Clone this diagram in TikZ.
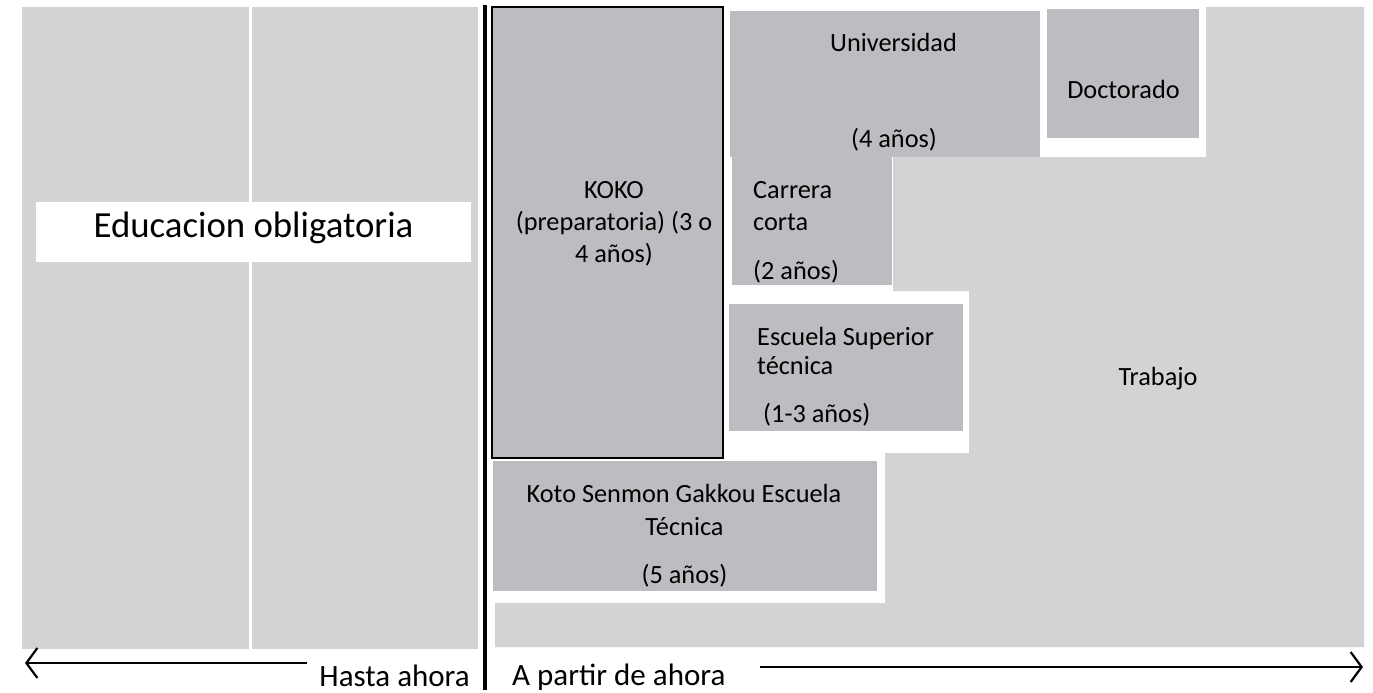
\documentclass[tikz,border=0pt]{standalone}
\usepackage{fontspec}
\setmainfont{Carlito}
\usetikzlibrary{arrows.meta}
\definecolor{lightg}{RGB}{209,211,212}
\definecolor{darkg}{RGB}{188,189,192}
\tikzset{
  blk/.style={fill=#1, draw=none, inner sep=0pt, outer sep=0pt, anchor=north west},
  lab/.style={anchor=base, inner sep=0pt, font=\fontsize{26.3}{32}\selectfont},
  labw/.style={lab, anchor=base west},
  biglab/.style={anchor=base, inner sep=0pt, font=\fontsize{36.8}{44}\selectfont},
  botlab/.style={inner sep=0pt, font=\fontsize{31}{37}\selectfont},
  timearrow/.style={line width=2.5pt, -{Straight Barb[length=11pt,width=30pt,line width=2.2pt]}},
}
\begin{document}
\begin{tikzpicture}[x=1pt,y=-1pt]
\useasboundingbox[fill=white] (0,0) rectangle (1373,693);
% left compulsory education block
\node[blk=lightg, minimum width=227pt, minimum height=642pt] (colL) at (22,7) {};
\node[blk=lightg, minimum width=226pt, minimum height=642pt] (colR) at (252,7) {};
\node[blk=white, minimum width=435pt, minimum height=60pt] (eduband) at (36,202) {};
\node[biglab] (edu) at (253.5,237) {Educacion obligatoria};
% work region
\fill[lightg] (1206,7) -- (1364,7) -- (1364,647) -- (495,647) -- (495,603) -- (885,603)
  -- (885,453) -- (969,453) -- (969,291) -- (893,291) -- (893,157) -- (1206,157) -- cycle;
\node[lab] (trabajo) at (1158,385) {Trabajo};
% boxes
\node[blk=darkg, draw=black, line width=1.8pt, minimum width=231pt, minimum height=451pt] (koko) at (492,7) {};
\node[blk=darkg, minimum width=310pt, minimum height=146pt] (uni) at (730,11) {};
\node[blk=darkg, minimum width=152pt, minimum height=129pt] (doc) at (1047,9) {};
\node[blk=darkg, minimum width=160pt, minimum height=128pt] (carrera) at (732,157) {};
\node[blk=darkg, minimum width=234pt, minimum height=127pt] (esc) at (729,304) {};
\node[blk=darkg, minimum width=384pt, minimum height=130pt] (koto) at (493,461) {};
% texts
\node[lab] (kokoA) at (614,198) {KOKO};
\node[lab] (kokoB) at (614,230) {(preparatoria) (3 o};
\node[lab] (kokoC) at (614,262) {4 años)};
\node[lab] (uniA) at (893.5,52) {Universidad};
\node[lab] (uniB) at (894,147) {(4 años)};
\node[lab] (docA) at (1123.5,99) {Doctorado};
\node[labw] (carA) at (753,198) {Carrera};
\node[labw] (carB) at (753,230) {corta};
\node[labw] (carC) at (753,279) {(2 años)};
\node[labw] (escA) at (757,345) {Escuela Superior};
\node[labw] (escB) at (757,374) {técnica};
\node[labw] (escC) at (763,422) {(1-3 años)};
\node[lab] (kotoA) at (684,502) {Koto Senmon Gakkou Escuela};
\node[lab] (kotoB) at (684.5,535) {Técnica};
\node[lab] (kotoC) at (684.5,583) {(5 años)};
% divider and time arrows
\coordinate (divtop) at (485,5);
\coordinate (divbot) at (485,690);
\draw[line width=3.5pt] (divtop) -- (divbot);
\node[botlab, anchor=base east] (hasta) at (470,686) {Hasta ahora};
\node[botlab, anchor=base west] (partir) at (512,685) {A partir de ahora};
\coordinate (lstart) at (307,663);
\coordinate (lend) at (25,663);
\coordinate (rstart) at (760,667);
\coordinate (rend) at (1363,667);
\draw[timearrow] (lstart) -- (lend);
\draw[timearrow] (rstart) -- (rend);
\end{tikzpicture}
\end{document}
